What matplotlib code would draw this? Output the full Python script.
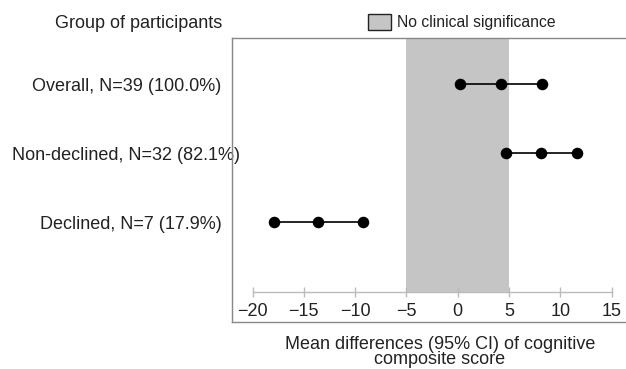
import matplotlib
matplotlib.use("Agg")
import matplotlib.pyplot as plt
import matplotlib.transforms as mtransforms
from matplotlib.patches import Patch

plt.rcParams['font.family'] = ['Liberation Sans', 'DejaVu Sans']

# data
groups = ["Overall, N=39 (100.0%)", "Non-declined, N=32 (82.1%)", "Declined, N=7 (17.9%)"]
lower = [0.2, 4.7, -17.9]
mean = [4.2, 8.1, -13.6]
upper = [8.2, 11.6, -9.2]
xticks = [-20, -15, -10, -5, 0, 5, 10, 15]
band = (-5, 5)

text_c = '#222222'
box_c = '#888888'
axis_c = '#bbbbbb'
band_c = '#c6c5c6'

fig = plt.figure(figsize=(6.26, 3.69), dpi=100)
ax = fig.add_axes([232 / 626, 1 - 322 / 369, (626 - 232) / 626, (322 - 38) / 369])
ax.set_xlim(-22.0, 16.4)
ax.set_ylim(-0.44, 3.67)

ypos = [3, 2, 1]

# no clinical significance band
ax.fill_betweenx([0, 4], band[0], band[1], color=band_c, lw=0, zorder=1)

for y, lo, m, hi in zip(ypos, lower, mean, upper):
    ax.plot([lo, m, hi], [y, y, y], color='black', lw=1.2, marker='o',
            markersize=7.3, zorder=3)

# axis drawn inside the box
ax.spines['bottom'].set_position(('data', 0))
ax.spines['bottom'].set_bounds(xticks[0], xticks[-1])
ax.spines['bottom'].set_color(axis_c)
ax.spines['bottom'].set_linewidth(1.0)
ax.spines['right'].set_visible(False)
for s in ['left', 'top']:
    ax.spines[s].set_color(box_c)
    ax.spines[s].set_linewidth(1.0)
ax.plot([0, 1], [0, 0], transform=ax.transAxes, color=box_c, lw=1.0,
        clip_on=False)

ax.set_xticks(xticks)
ax.set_xticklabels([str(t).replace('-', '\u2212') for t in xticks])
ax.tick_params(axis='x', direction='inout', length=7, width=1.0, color=axis_c,
               labelsize=13, labelcolor=text_c, pad=4.5)

ax.set_yticks(ypos)
ax.set_yticklabels(groups)
ax.tick_params(axis='y', length=0, labelsize=13, labelcolor=text_c, pad=7.5)
# the middle label sits a bit further right in the original
lab = ax.get_yticklabels()[1]
lab.set_transform(lab.get_transform() + mtransforms.ScaledTranslation(18 / 100, 0, fig.dpi_scale_trans))

fig.text(222 / 626, 1 - 23 / 369, "Group of participants", ha='right', va='center',
         fontsize=13, color=text_c)

fig.legend(handles=[Patch(facecolor=band_c, edgecolor='#222222', linewidth=1.0)],
           labels=["No clinical significance"], loc='center left',
           bbox_to_anchor=(368 / 626, 1 - 22 / 369), frameon=False,
           fontsize=11.3, handlelength=1.47, handleheight=1.27, handletextpad=0.36,
           borderpad=0, borderaxespad=0, labelcolor=text_c)

fig.text(440 / 626, 1 - 352 / 369,
         "Mean differences (95% CI) of cognitive\ncomposite score",
         ha='center', va='center', fontsize=13, color=text_c, linespacing=0.88)

fig.savefig("out.png", dpi=100)
